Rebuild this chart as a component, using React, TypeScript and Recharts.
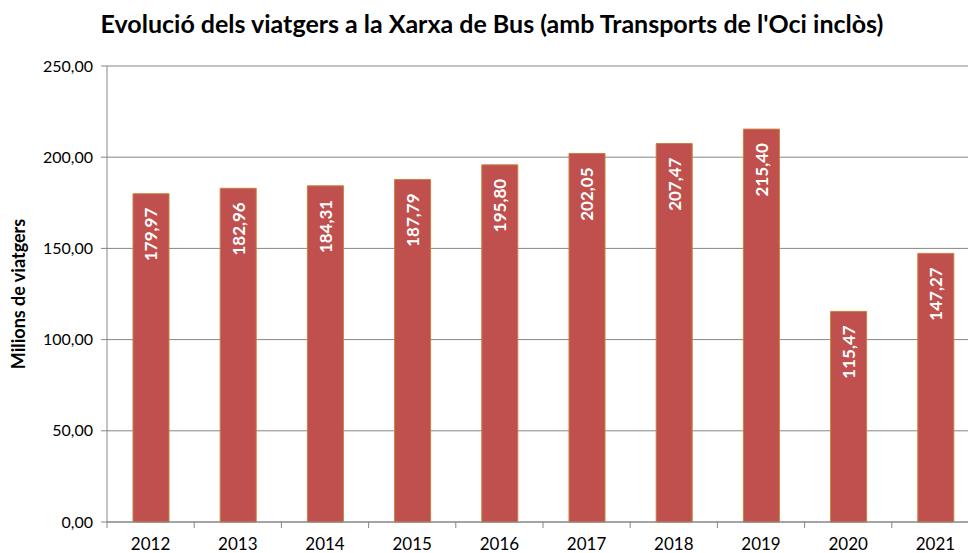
import { BarChart, Bar, XAxis, YAxis, CartesianGrid, LabelList, Label } from 'recharts';

const ANYS = ['2012', '2013', '2014', '2015', '2016', '2017', '2018', '2019', '2020', '2021'];
const VIATGERS = [179.97, 182.96, 184.31, 187.79, 195.8, 202.05, 207.47, 215.4, 115.47, 147.27];
const Y_TICKS = [0, 50, 100, 150, 200, 250];

const TITOL = "Evolució dels viatgers a la Xarxa de Bus (amb Transports de l'Oci inclòs)";
const FONT = 'Lato, "Open Sans", sans-serif';

const fmt = (v: number) => v.toFixed(2).replace('.', ',');

const data = ANYS.map((any, i) => ({ any, valor: VIATGERS[i] }));

const BAND = 87.2;

function XTick(props: any) {
  const { x, y, payload } = props;
  return (
    <g>
      <line x1={x - BAND / 2} x2={x - BAND / 2} y1={y - 8} y2={y - 2} stroke="#868686" />
      <text x={x} y={y + 20} textAnchor="middle" fontSize={17} fill="#000" fontFamily={FONT}>
        {payload.value}
      </text>
    </g>
  );
}

function BarLabel(props: any) {
  const { x, y, width, value } = props;
  const cx = x + width / 2;
  const ty = y + 14;
  return (
    <text
      x={cx}
      y={ty}
      transform={`rotate(-90 ${cx} ${ty})`}
      textAnchor="end"
      dominantBaseline="central"
      fill="#fff"
      fontWeight="bold"
      fontSize={17}
      fontFamily={FONT}
    >
      {fmt(value)}
    </text>
  );
}

export default function App() {
  return (
    <div style={{ position: 'absolute', left: 0, top: 0, width: 968, height: 553, overflow: 'hidden', background: '#fff' }}>
      <div
        style={{
          position: 'absolute', top: 8, left: 0, width: 984, textAlign: 'center',
          fontFamily: FONT, fontWeight: 'bold', fontSize: 25, color: '#000',
        }}
      >
        {TITOL}
      </div>
      <BarChart width={1000} height={553} data={data} margin={{ top: 66, right: 21, bottom: 0, left: 0 }} barCategoryGap={0}>
        <CartesianGrid vertical={false} stroke="#868686" />
        <XAxis
          dataKey="any"
          height={31}
          tickLine={false}
          axisLine={{ stroke: '#868686' }}
          tick={<XTick />}
          interval={0}
        />
        <YAxis
          width={107}
          domain={[0, 250]}
          ticks={Y_TICKS}
          tickFormatter={fmt}
          axisLine={{ stroke: '#868686' }}
          tickLine={{ stroke: '#868686' }}
          tickSize={6}
          tickMargin={8}
          tick={{ fontSize: 16, fill: '#000', fontFamily: FONT }}
        >
          <Label
            value="Milions de viatgers"
            angle={-90}
            position="insideLeft"
            offset={19}
            style={{ textAnchor: 'middle', fontSize: 18, fontWeight: 'bold', fill: '#000', fontFamily: FONT }}
          />
        </YAxis>
        <Bar dataKey="valor" fill="#C0504D" stroke="#C8813A" strokeWidth={1} barSize={36} isAnimationActive={false}>
          <LabelList dataKey="valor" content={<BarLabel />} />
        </Bar>
      </BarChart>
    </div>
  );
}
